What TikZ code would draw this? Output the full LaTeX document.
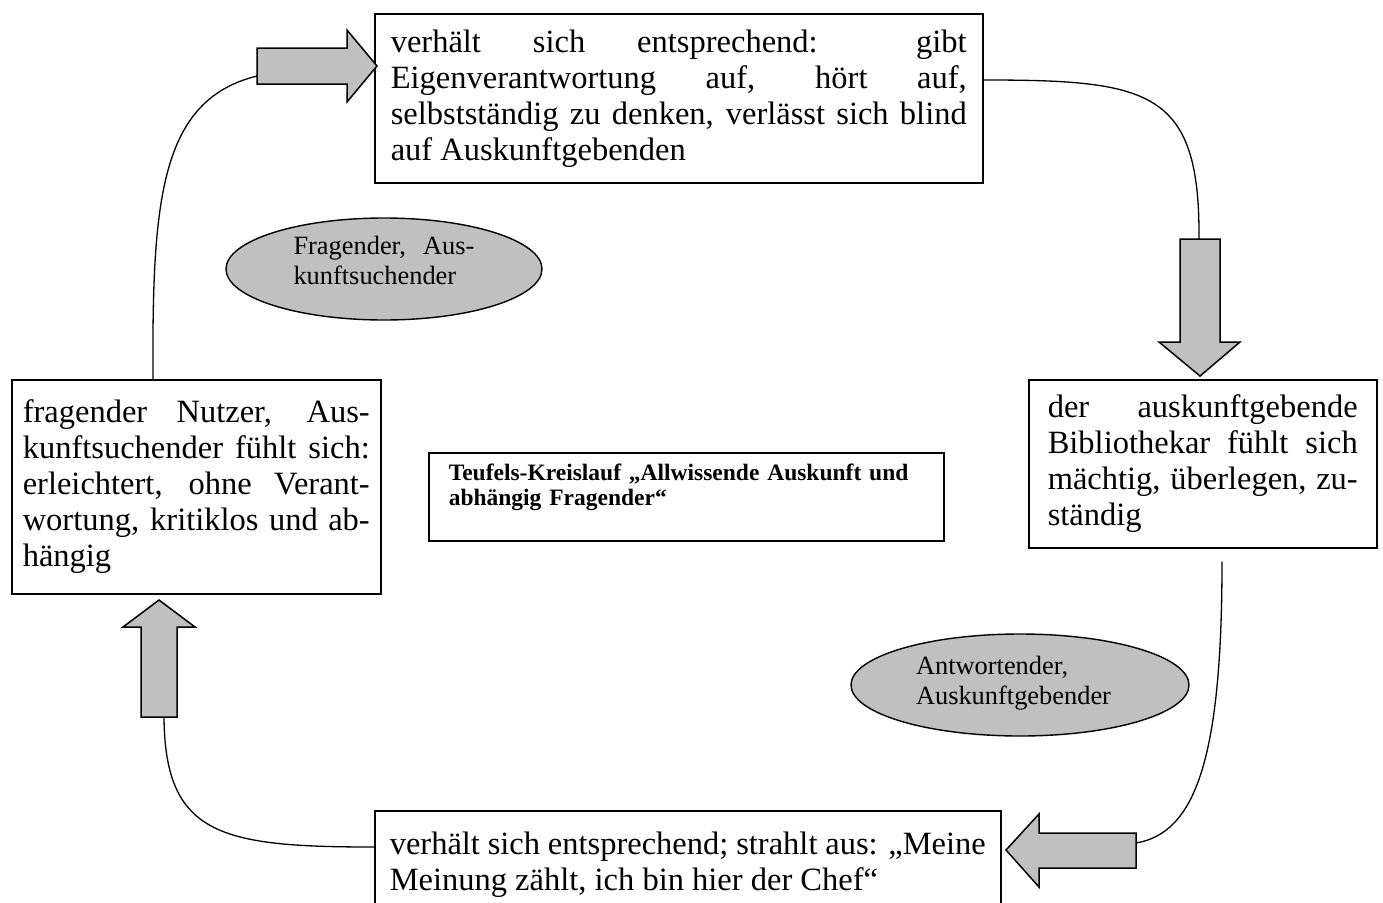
\documentclass[tikz,border=0pt]{standalone}
\usepackage{fontspec}
\setmainfont{Liberation Serif}
\usetikzlibrary{shapes.geometric,calc}
\definecolor{shade}{HTML}{C0C0C0}
\tolerance=10000
\hyphenpenalty=10000
\hbadness=10000
\begin{document}
\begin{tikzpicture}[x=1pt,y=-1pt,
  box/.style={draw, line width=1.5pt, rectangle, anchor=north west, inner ysep=0pt,
    align=justify, font=\fontsize{32.5pt}{36pt}\selectfont},
  oval/.style={draw, line width=1.4pt, ellipse, fill=shade, inner sep=0pt,
    font=\fontsize{26.4pt}{30pt}\selectfont},
  blockarrow/.style={draw, line width=1.5pt, fill=shade, line join=miter},
  conn/.style={draw, line width=1.3pt}]
\useasboundingbox (0,0) rectangle (1383,902);

% boxes
\node[box, text width=576pt, inner xsep=16pt, minimum height=169pt] (top) at (374,13)
  {verhält sich entsprechend: gibt\linebreak Eigenverantwortung auf, hört auf,\linebreak selbstständig zu denken, verlässt sich blind\linebreak auf Auskunftgebenden};
\node[box, text width=310pt, inner xsep=19pt, minimum height=168pt] (right) at (1028,379)
  {der auskunftgebende\linebreak Bibliothekar fühlt sich\linebreak mächtig, überlegen, zu-\linebreak ständig};
\node[box, text width=347pt, inner xsep=11pt, minimum height=214pt] (left) at (11,379)
  {fragender Nutzer, Aus-\linebreak kunftsuchender fühlt sich:\linebreak erleichtert, ohne Verant-\linebreak wortung, kritiklos und ab-\linebreak hängig};
\node[box, text width=596pt, inner xsep=15pt, minimum height=107pt] (bottom) at (374,810)
  {verhält sich entsprechend; strahlt aus: „Meine\linebreak Meinung zählt, ich bin hier der Chef“};
\node[box, font=\fontsize{23.5pt}{25pt}\selectfont\bfseries, align=left, text width=475pt,
  inner xsep=20pt, minimum height=88pt, text depth=50pt] (title) at (428,452)
  {Teufels-Kreislauf „Allwissende Auskunft und\\ abhängig Fragender“};

% ellipses
\node[oval, minimum width=316pt, minimum height=102pt, text width=181pt, align=justify,
  text depth=47pt] (e1) at (384,269) {Fragender, Aus-\linebreak kunftsuchender};
\node[oval, minimum width=338pt, minimum height=102pt, text width=208pt, align=left,
  text depth=40pt] (e2) at (1020,685) {Antwortender,\\ Auskunftgebender};

% connector end points
\coordinate (a1tail) at (257,76);
\coordinate (a2tail) at (1199,239);
\coordinate (a3tail) at (1136,843);
\coordinate (a4tail) at (164,717);
\coordinate (c3start) at ($(right.south west)+(194,13)$);

% curved connectors
\draw[conn] ($(left.north west)+(142,0)$) .. controls (152,200) and (160,100) .. (a1tail);
\draw[conn] ($(top.north east)+(0,67)$) .. controls (1150,80) and (1200,90) .. (a2tail);
\draw[conn] (c3start) .. controls (1222,760) and (1195,833) .. (a3tail);
\draw[conn] ($(bottom.north west)+(0,37)$) .. controls (220,847) and (165,835) .. (a4tail);

% block arrows
\draw[blockarrow] (257,48) -- (347,48) -- (347,30) -- (377,66) -- (347,102) -- (347,84) -- (257,84) -- cycle;
\draw[blockarrow] (1180,239) -- (1220,239) -- (1220,342) -- (1240,342) -- (1200,376) -- (1159,342) -- (1180,342) -- cycle;
\draw[blockarrow] (1136,833) -- (1039,833) -- (1039,814) -- (1006,850) -- (1039,887) -- (1039,868) -- (1136,868) -- cycle;
\draw[blockarrow] (141,717) -- (141,627) -- (123,627) -- (159,600) -- (195,627) -- (177,627) -- (177,717) -- cycle;
\end{tikzpicture}
\end{document}
